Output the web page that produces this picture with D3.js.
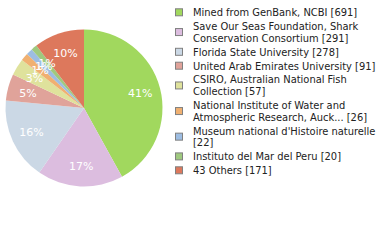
<!DOCTYPE html>
<html>
<head>
<meta charset="utf-8">
<script src="https://cdn.jsdelivr.net/npm/d3@7"></script>
<style>
  body { margin: 0; background: #fff; }
  svg { display: block; }
</style>
</head>
<body>
<div id="chart"></div>
<script>
// Pie of specimen sources with a legend on the right
const labels = [
    ['Mined from GenBank, NCBI [691]'],
    ['Save Our Seas Foundation, Shark', 'Conservation Consortium [291]'],
    ['Florida State University [278]'],
    ['United Arab Emirates University [91]'],
    ['CSIRO, Australian National Fish', 'Collection [57]'],
    ['National Institute of Water and', 'Atmospheric Research, Auck... [26]'],
    ['Museum national d\'Histoire naturelle', '[22]'],
    ['Instituto del Mar del Peru [20]'],
    ['43 Others [171]']
];
const values = [691, 291, 278, 91, 57, 26, 22, 20, 171];
const colors = ['#a1d85e', '#dcbddf', '#cbd8e5', '#e0a39a', '#dfe29c',
                '#f0b071', '#9dbde2', '#9fc97f', '#dd785c'];

const width = 380, height = 240;
const cx = 84, cy = 108, radius = 78.5;

const svg = d3.select('#chart')
    .append('svg')
    .attr('width', width)
    .attr('height', height);

const total = d3.sum(values);
const pie = d3.pie().sort(null).value(d => d);
const arcs = pie(values);

const arc = d3.arc().innerRadius(0).outerRadius(radius);
const labelArc = d3.arc().innerRadius(58).outerRadius(58);

const g = svg.append('g').attr('transform', `translate(${cx},${cy})`);

g.selectAll('path')
    .data(arcs)
    .enter()
    .append('path')
    .attr('d', arc)
    .attr('fill', (d, i) => colors[i]);

g.selectAll('text')
    .data(arcs)
    .enter()
    .append('text')
    .attr('transform', d => `translate(${labelArc.centroid(d)})`)
    .attr('text-anchor', 'middle')
    .attr('dy', '0.35em')
    .attr('font-family', 'DejaVu Sans')
    .attr('font-size', '11px')
    .attr('fill', '#fff')
    .text(d => Math.floor(d.value / total * 100) + '%');

// Legend
const lineH = 11.7, gap = 2.2;
const legend = svg.append('g').attr('font-family', 'DejaVu Sans Condensed').attr('font-size', '11px');
let y = 12.3;
labels.forEach((lines, i) => {
    const item = legend.append('g');
    lines.forEach((t, j) => {
        item.append('text')
            .attr('x', 193)
            .attr('y', y + j * lineH)
            .attr('dy', '0.35em')
            .attr('fill', '#222')
            .text(t);
    });
    const mid = y + (lines.length - 1) * lineH / 2;
    item.append('rect')
        .attr('x', 175.5)
        .attr('y', mid - 3.5)
        .attr('width', 7)
        .attr('height', 7)
        .attr('fill', colors[i])
        .attr('stroke', '#808080')
        .attr('stroke-width', 1);
    y += lines.length * lineH + gap;
});
</script>
</body>
</html>
